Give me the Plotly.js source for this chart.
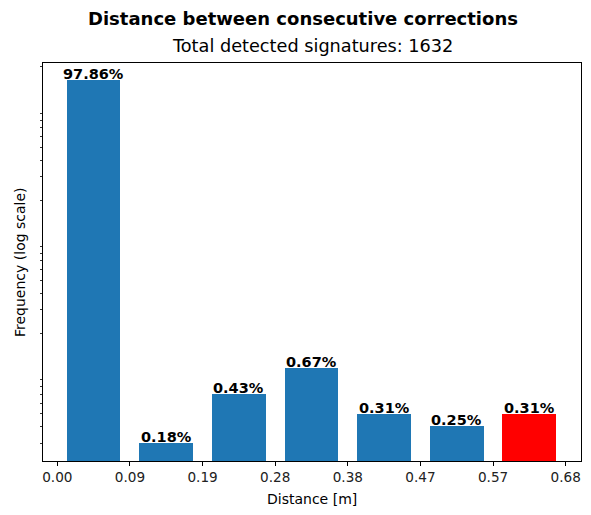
<!DOCTYPE html>
<html>
<head>
<meta charset="utf-8">
<script src="https://cdn.plot.ly/plotly-3.0.1.min.js"></script>
<style>html,body{margin:0;padding:0;background:#fff;}#chart{width:591px;height:515px;}</style>
</head>
<body>
<div id="chart"></div>
<script>
// Data
const binTickLabels = ["0.00", "0.09", "0.19", "0.28", "0.38", "0.47", "0.57", "0.68"];
const binCounts = [1597, 3, 7, 11, 5, 4, 5];
const barColors = ["#1f77b4", "#1f77b4", "#1f77b4", "#1f77b4", "#1f77b4", "#1f77b4", "#ff0000"];
const totalSignatures = 1632;
const mainTitle = "Distance between consecutive corrections";
const subTitle = "Total detected signatures: " + totalSignatures;

const FONT = "DejaVu Sans, sans-serif";
const xPos = binCounts.map((_, i) => i + 0.5);
const pctText = binCounts.map(c => (100 * c / totalSignatures).toFixed(2) + "%");

// minor log ticks (2..9 x 10^k)
const minorVals = [];
for (let k = 0; k <= 3; k++) for (let m = 2; m <= 9; m++) minorVals.push(m * Math.pow(10, k));

const W = 591, H = 515, L = 43, R = 10, T = 63, B = 54;
const pw = W - L - R, ph = H - T - B;
const px = x => (x - L) / pw;
const py = y => (H - B - y) / ph;

const trace = {
  type: "bar",
  x: xPos,
  y: binCounts,
  width: 0.74,
  marker: {color: barColors, line: {width: 0}},
  hoverinfo: "skip"
};

const annotations = binCounts.map((c, i) => ({
  x: xPos[i], y: Math.log10(c), xref: "x", yref: "y",
  text: "<b>" + pctText[i] + "</b>", showarrow: false,
  yanchor: "bottom", xanchor: "center", yshift: -4,
  font: {family: FONT, size: 14.5, color: "#000"}
}));
annotations.push(
  {x: px(303), y: py(19), xref: "paper", yref: "paper", text: "<b>" + mainTitle + "</b>",
   showarrow: false, xanchor: "center", yanchor: "middle", font: {family: FONT, size: 18, color: "#000"}},
  {x: px(312), y: py(46), xref: "paper", yref: "paper", text: subTitle,
   showarrow: false, xanchor: "center", yanchor: "middle", font: {family: FONT, size: 17.7, color: "#000"}},
  {x: px(312), y: py(499), xref: "paper", yref: "paper", text: "Distance [m]",
   showarrow: false, xanchor: "center", yanchor: "middle", font: {family: FONT, size: 14, color: "#000"}},
  {x: px(20), y: py(262), xref: "paper", yref: "paper", text: "Frequency (log scale)", textangle: -90,
   showarrow: false, xanchor: "center", yanchor: "middle", font: {family: FONT, size: 14, color: "#000"}}
);

const layout = {
  width: W, height: H,
  margin: {l: L, r: R, t: T, b: B, pad: 0},
  paper_bgcolor: "#fff", plot_bgcolor: "#fff",
  showlegend: false,
  bargap: 0,
  xaxis: {
    range: [-0.197, 7.211],
    tickmode: "array",
    tickvals: binTickLabels.map((_, i) => i),
    ticktext: binTickLabels,
    ticks: "outside", ticklen: 4, tickwidth: 1, tickcolor: "#000",
    tickfont: {family: FONT, size: 13.6, color: "#222"},
    showgrid: false, zeroline: false,
    showline: true, mirror: true, linecolor: "#000", linewidth: 1
  },
  yaxis: {
    type: "log",
    range: [0.343, 3.331],
    tickmode: "array",
    tickvals: minorVals,
    ticktext: minorVals.map(() => ""),
    ticks: "outside", ticklen: 2.5, tickwidth: 0.8, tickcolor: "#000",
    showticklabels: false,
    showgrid: false, zeroline: false,
    showline: true, mirror: true, linecolor: "#000", linewidth: 1
  },
  annotations: annotations
};

Plotly.newPlot("chart", [trace], layout, {staticPlot: true, displayModeBar: false});
</script>
</body>
</html>
